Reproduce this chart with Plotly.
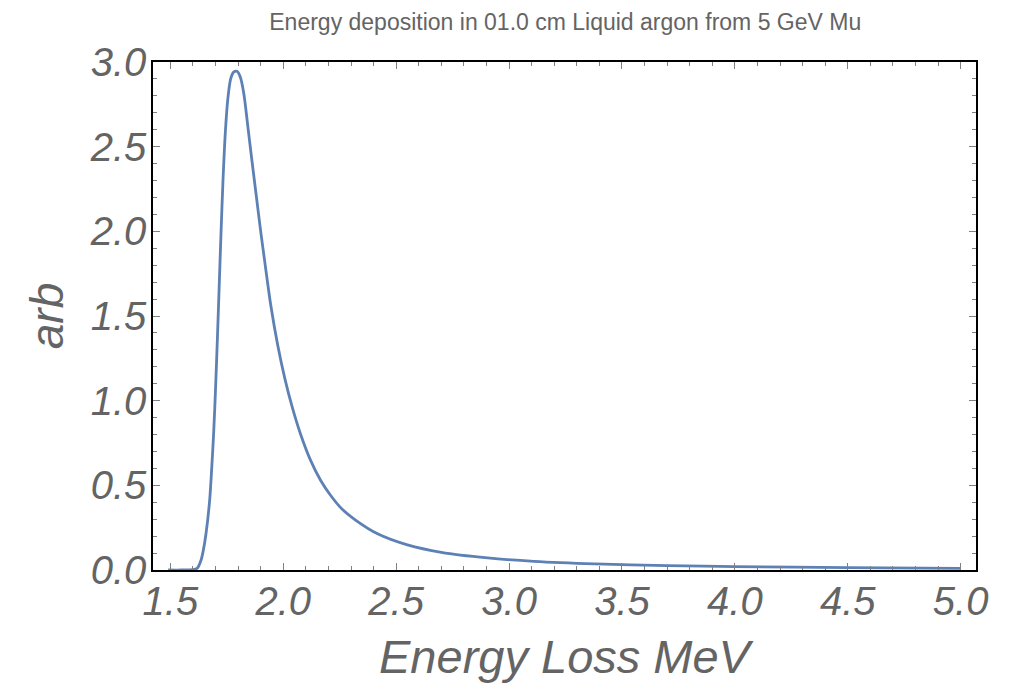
import plotly.graph_objects as go

# Values
energy_loss = [1.49, 1.55, 1.60, 1.611, 1.62, 1.636, 1.645, 1.658, 1.674, 1.683, 1.692,
               1.700, 1.708, 1.716, 1.724, 1.733, 1.744, 1.755, 1.767, 1.780, 1.795,
               1.810, 1.825, 1.843, 1.860, 1.879, 1.900, 1.917, 1.945, 1.975, 2.007,
               2.040, 2.077, 2.120, 2.165, 2.210, 2.260, 2.320, 2.420, 2.550, 2.700,
               2.905, 3.110, 3.380, 3.700, 4.000, 4.500, 5.000]
arb = [0.0, 0.0, 0.002, 0.005, 0.012, 0.059, 0.11, 0.217, 0.413, 0.60, 0.82,
       1.07, 1.36, 1.67, 1.98, 2.30, 2.60, 2.79, 2.90, 2.94, 2.945,
       2.91, 2.815, 2.62, 2.43, 2.225, 2.00, 1.83, 1.56, 1.33, 1.13,
       0.96, 0.80, 0.65, 0.53, 0.44, 0.36, 0.295, 0.212, 0.148, 0.104,
       0.071, 0.051, 0.036, 0.026, 0.020, 0.014, 0.010]

x_ticks = [1.5, 2.0, 2.5, 3.0, 3.5, 4.0, 4.5, 5.0]
x_ticktext = ["1.5", "2.0", "2.5", "3.0", "3.5", "4.0", "4.5", "5.0"]
y_ticks = [0.0, 0.5, 1.0, 1.5, 2.0, 2.5, 3.0]
y_ticktext = ["0.0", "0.5", "1.0", "1.5", "2.0", "2.5", "3.0"]

title_text = "Energy deposition in 01.0 cm Liquid argon from 5 GeV Mu"
x_title = "Energy Loss MeV"
y_title = "arb"

TXT = "#646464"
FONT = "Liberation Sans, Arial, sans-serif"

fig = go.Figure()
fig.add_trace(go.Scatter(x=energy_loss, y=arb, mode="lines",
                         line=dict(color="#5E81B5", width=2.8, shape="spline", smoothing=0.8),
                         showlegend=False))

axis_common = dict(
    showgrid=False, zeroline=False,
    showline=True, linecolor="#000000", linewidth=1.5, mirror="allticks",
    ticks="inside", ticklen=7, tickwidth=1, tickcolor="#808080",
    tickfont=dict(family=FONT, size=40, color=TXT, style="italic"),
    minor=dict(ticks="inside", ticklen=4, tickwidth=1, tickcolor="#808080", dtick=0.1),
    automargin=False,
)

fig.update_layout(
    width=1015, height=686,
    margin=dict(l=145, r=47, t=54, b=124),
    paper_bgcolor="white", plot_bgcolor="white",
    title=dict(text=title_text, x=0.5490, xanchor="center", y=0.9796, yanchor="middle",
               font=dict(family=FONT, size=23, color=TXT)),
    xaxis=dict(range=[1.423, 5.068], tickvals=x_ticks, ticktext=x_ticktext,
               ticklabelstandoff=-5,
               title=dict(text=x_title, standoff=18,
                          font=dict(family=FONT, size=47, color=TXT, style="italic")),
               minor_tick0=1.5, **axis_common),
    yaxis=dict(range=[0, 3.0], tickvals=y_ticks, ticktext=y_ticktext,
               ticklabelstandoff=-3,
               title=dict(text=y_title, standoff=12,
                          font=dict(family=FONT, size=46, color=TXT, style="italic")),
               minor_tick0=0.0, **axis_common),
)

fig.write_html("out.html")
